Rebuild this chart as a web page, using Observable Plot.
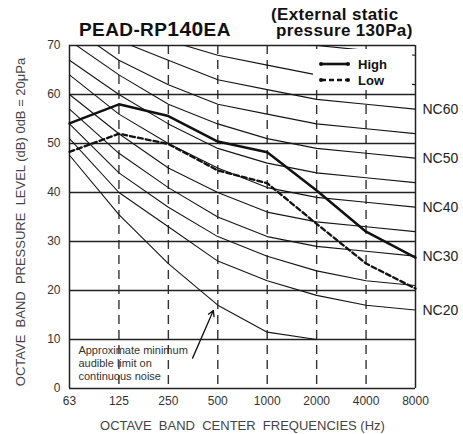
<!DOCTYPE html>
<html>
<head>
<meta charset="utf-8">
<script src="https://cdn.jsdelivr.net/npm/d3@7"></script>
<script src="https://cdn.jsdelivr.net/npm/@observablehq/plot@0.6"></script>
<style>
  body { margin: 0; background: white; }
  #wrap { position: relative; width: 463px; height: 434px; font-family: "Liberation Sans", Arial, sans-serif; }
  .ttl { position: absolute; font-weight: bold; color: #111; white-space: nowrap; }
  #legend { position: absolute; left: 313px; top: 49px; width: 99px; height: 39px; background: white; }
</style>
</head>
<body>
<div id="wrap">
  <div id="chart"></div>
  <div class="ttl" id="t1" style="left:79px; top:18px; font-size:19px; line-height:22px; letter-spacing:0.4px;">PEAD-RP<span style="font-size:21px">140</span>EA</div>
  <div class="ttl" style="left:271px; top:7px; font-size:17px; line-height:16px; letter-spacing:0.35px;">(External static<br>&nbsp;pressure 130Pa)</div>
  <div id="legend">
    <svg width="99" height="39" style="font-family: 'Liberation Sans', Arial, sans-serif;">
      <line x1="8" x2="35" y1="15" y2="15" stroke="#111" stroke-width="2.6"/>
      <circle cx="8" cy="15" r="2" fill="#111"/><circle cx="35" cy="15" r="2" fill="#111"/>
      <text x="45" y="19.5" font-size="13" font-weight="bold" fill="#111">High</text>
      <line x1="8" x2="35" y1="31" y2="31" stroke="#111" stroke-width="2.4" stroke-dasharray="5,3"/>
      <circle cx="8" cy="31" r="2" fill="#111"/><circle cx="35" cy="31" r="2" fill="#111"/>
      <text x="45" y="35.5" font-size="13" font-weight="bold" fill="#111">Low</text>
    </svg>
  </div>
</div>
<script>
// Octave band centre frequencies (tick labels)
const bands = ["63", "125", "250", "500", "1000", "2000", "4000", "8000"];
const yTicks = [0, 10, 20, 30, 40, 50, 60, 70];

// NC curves (dB at each octave band)
const nc20 = [51, 40, 33, 26, 22, 19, 17, 16];
const nc25 = [54, 44, 37, 31, 27, 24, 22, 21];
const nc30 = [57, 48, 41, 35, 31, 29, 28, 27];
const nc35 = [60, 52, 45, 40, 36, 34, 33, 32];
const nc40 = [64, 56, 50, 45, 41, 39, 38, 37];
const nc45 = [67, 60, 54, 49, 46, 44, 43, 42];
const nc50 = [71, 64, 58, 54, 51, 49, 48, 47];
const nc55 = [74, 67, 62, 58, 56, 54, 53, 52];
const nc60 = [77, 71, 67, 63, 61, 59, 58, 57];
const nc65 = [80, 75, 71, 68, 66, 64, 63, 62];
const nc70 = [83, 79, 75, 72, 71, 70, 69, 68];
const ncNames = ["NC20", "NC25", "NC30", "NC35", "NC40", "NC45", "NC50", "NC55", "NC60", "NC65", "NC70"];
const ncLabelled = ["NC20", "NC30", "NC40", "NC50", "NC60"];

// Approximate minimum audible limit (63 .. 2000 Hz)
const audible = [47.6, 35.5, 25.5, 17, 11.5, 10];

// Unit series
const high = [54.1, 58, 55.6, 50.4, 48.2, 40.4, 32, 26.7];
const low = [48.3, 52, 49.9, 44.5, 41.9, 33.6, 25.5, 20.4];

// Annotation
const noteText = "Approximate minimum\naudible limit on\ncontinuous noise";
const noteAt = {x: 0.18, y: 8.8};
const noteArrow = {x1: 2.49, y1: 6.2, x2: 2.91, y2: 15.9};

const yLabel = "OCTAVE\u00a0\u00a0BAND\u00a0\u00a0PRESSURE\u00a0\u00a0LEVEL (dB) 0dB = 20\u03bcPa";
const xLabel = "OCTAVE\u00a0\u00a0BAND\u00a0\u00a0CENTER\u00a0\u00a0FREQUENCIES\u00a0(Hz)";

const idx = bands.map((_, i) => i);
const ncSets = [nc20, nc25, nc30, nc35, nc40, nc45, nc50, nc55, nc60, nc65, nc70];
const ncRows = ncSets.flatMap((arr, k) => arr.map((v, i) => ({nc: ncNames[k], i, v})));
const ncLabelRows = ncNames.map((n, k) => ({nc: n, i: 7, v: ncSets[k][7]})).filter(d => ncLabelled.includes(d.nc));
const toRows = arr => arr.map((v, i) => ({i, v}));

const chart = Plot.plot({
  width: 463,
  height: 434,
  marginLeft: 69,
  marginRight: 48,
  marginTop: 45,
  marginBottom: 46,
  x: {type: "linear", domain: [0, 7], axis: null},
  y: {domain: [0, 70], axis: null},
  style: {fontFamily: "'Liberation Sans', Arial, sans-serif", background: "white", color: "#222"},
  marks: [
    Plot.ruleX(idx.slice(1, -1), {stroke: "#333", strokeWidth: 1.4, strokeDasharray: "9,6"}),
    Plot.ruleY(yTicks, {stroke: "#222", strokeWidth: 1.3}),
    Plot.ruleX([idx[0], idx[idx.length - 1]], {stroke: "#222", strokeWidth: 1.5}),
    Plot.line(ncRows, {x: "i", y: "v", z: "nc", stroke: "#151515", strokeWidth: 1.1, clip: true}),
    Plot.line(toRows(audible), {x: "i", y: "v", stroke: "#151515", strokeWidth: 1.1}),
    Plot.line(toRows(high), {x: "i", y: "v", stroke: "#111", strokeWidth: 2.5}),
    Plot.line(toRows(low), {x: "i", y: "v", stroke: "#111", strokeWidth: 2.3, strokeDasharray: "5,3"}),
    Plot.axisX({ticks: idx, tickFormat: i => bands[i], tickSize: 0, tickPadding: 8, fontSize: 12, label: null, color: "#333"}),
    Plot.axisY({ticks: yTicks, tickSize: 0, tickPadding: 9, fontSize: 12, label: null, color: "#333"}),
    Plot.text(ncLabelRows, {x: "i", y: "v", text: "nc", dx: 7, textAnchor: "start", fontSize: 14, fill: "#222"}),
    Plot.text([noteText], {x: noteAt.x, y: noteAt.y, text: d => d, textAnchor: "start", lineAnchor: "top", fontSize: 11, lineHeight: 1.15, fill: "#333"}),
    Plot.arrow([noteArrow], {x1: "x1", y1: "y1", x2: "x2", y2: "y2", stroke: "#111", strokeWidth: 1.3, headLength: 7}),
    Plot.text([xLabel], {frameAnchor: "bottom", dy: 37, text: d => d, textAnchor: "middle", fontSize: 13, fill: "#444", lineAnchor: "middle"}),
    Plot.text([yLabel], {frameAnchor: "left", dx: -49, dy: 5, rotate: -90, text: d => d, textAnchor: "middle", fontSize: 13, fill: "#444", lineAnchor: "middle"})
  ]
});
document.getElementById("chart").appendChild(chart);
</script>
</body>
</html>
